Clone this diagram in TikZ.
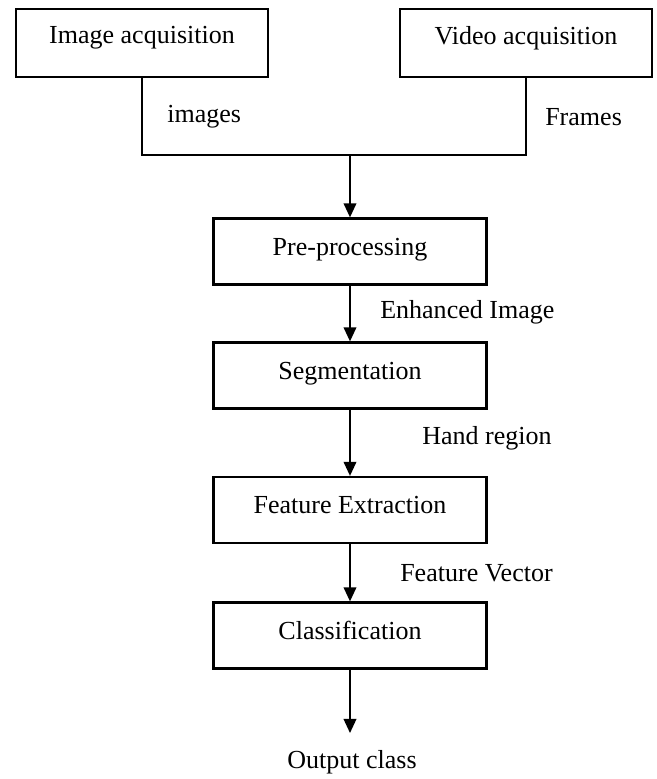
\documentclass[tikz,border=0pt]{standalone}
\usepackage{fontspec}
\setmainfont{Liberation Serif}
\usetikzlibrary{arrows.meta}

\tikzset{
    stagebox/.style={draw=black!100, line width=1.6pt, minimum width=6.825cm, minimum height=1.65cm, inner sep=0pt, text depth=7pt, font=\fontsize{18.5}{22}\selectfont},
    srcbox/.style={stagebox, minimum width=6.3cm, minimum height=1.7cm, text depth=11pt},
    flowlabel/.style={anchor=west, inner sep=0pt, font=\fontsize{18.5}{22}\selectfont},
    flow/.style={color=black!100, line width=1.2pt, -{Triangle[length=10pt, width=9pt]}}
}

\begin{document}
\begin{tikzpicture}[x=0.025cm, y=-0.025cm]
                \useasboundingbox (0, 0) rectangle (657, 779);

                \node[srcbox] (imgacq) at (142, 43) {Image acquisition};
                \node[srcbox] (vidacq) at (526, 43) {Video acquisition};
                \coordinate (join) at (350, 155);
                \draw[color=black!100, line width=1.3pt] (imgacq.south) -- (imgacq.south |- join) -- (vidacq.south |- join) -- (vidacq.south);
                \node[flowlabel] (imglbl) at (167, 117) {images};
                \node[flowlabel] (frmlbl) at (545, 117) {Frames};

                \node[stagebox] (prep) at (350, 251.5) {Pre-processing};
                \node[stagebox] (segm) at (350, 375.5) {Segmentation};
                \node[stagebox] (feat) at (350, 510) {Feature Extraction};
                \node[stagebox] (clsf) at (350, 635.5) {Classification};

                \draw[flow] (join) -- (prep);
                \draw[flow] (prep) -- (segm);
                \draw[flow] (segm) -- (feat);
                \draw[flow] (feat) -- (clsf);

                \node[flowlabel] (enhlbl) at (380, 312) {Enhanced Image};
                \node[flowlabel] (handlbl) at (422, 438) {Hand region};
                \node[flowlabel] (veclbl) at (400, 573) {Feature Vector};

                \coordinate (outtip) at (350, 733);
                \draw[flow] (clsf) -- (outtip);
                \node[inner sep=0pt, font=\fontsize{18.5}{22}\selectfont] (outcls) at (352, 762) {Output class};
\end{tikzpicture}
\end{document}
